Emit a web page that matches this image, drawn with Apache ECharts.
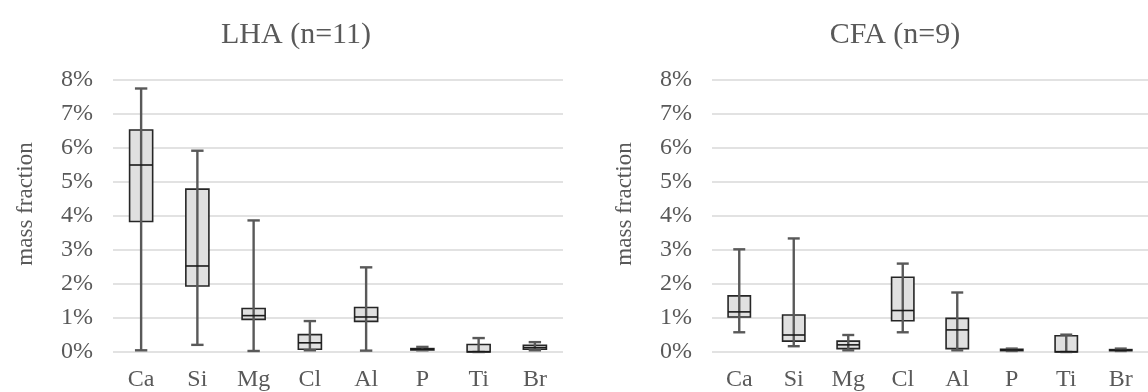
<!DOCTYPE html>
<html>
<head>
<meta charset="utf-8">
<script src="https://cdn.jsdelivr.net/npm/echarts@6/dist/echarts.min.js"></script>
<style>
html,body{margin:0;padding:0;background:#fff;}
#chart{width:1148px;height:392px;}
</style>
</head>
<body>
<div id="chart"></div>
<script>
const categories = ['Ca', 'Si', 'Mg', 'Cl', 'Al', 'P', 'Ti', 'Br'];
const yTicks = ['0%', '1%', '2%', '3%', '4%', '5%', '6%', '7%', '8%'];
const titles = ['LHA (n=11)', 'CFA (n=9)'];

// values in mass fraction (0.01 = 1%)
const lhaMin = [0.0005, 0.0021, 0.0003, 0.0005, 0.0004, 0.0005, 0.0000, 0.0005];
const lhaQ1  = [0.0384, 0.0194, 0.0096, 0.0008, 0.0090, 0.0006, 0.0000, 0.0008];
const lhaMed = [0.0550, 0.0253, 0.0107, 0.0027, 0.0103, 0.0008, 0.0001, 0.0013];
const lhaQ3  = [0.0653, 0.0479, 0.0128, 0.0051, 0.0131, 0.0010, 0.0022, 0.0020];
const lhaMax = [0.0775, 0.0592, 0.0387, 0.0091, 0.0249, 0.0015, 0.0041, 0.0029];

const cfaMin = [0.0058, 0.0017, 0.0005, 0.0058, 0.0005, 0.0003, 0.0000, 0.0003];
const cfaQ1  = [0.0103, 0.0032, 0.0010, 0.0092, 0.0010, 0.0004, 0.0000, 0.0004];
const cfaMed = [0.0118, 0.0050, 0.0021, 0.0122, 0.0065, 0.0006, 0.0001, 0.0005];
const cfaQ3  = [0.0165, 0.0109, 0.0032, 0.0220, 0.0099, 0.0008, 0.0048, 0.0007];
const cfaMax = [0.0302, 0.0334, 0.0050, 0.0260, 0.0175, 0.0010, 0.0051, 0.0010];

function build(mn, q1, md, q3, mx) {
  return categories.map((c, i) => [i, mn[i], q1[i], md[i], q3[i], mx[i]]);
}

const txt = '#595959';
const fontFam = '"Liberation Serif", "Times New Roman", serif';

function renderBox(params, api) {
  const i = api.value(0);
  const pMin = api.coord([i, api.value(1)]);
  const pQ1 = api.coord([i, api.value(2)]);
  const pMed = api.coord([i, api.value(3)]);
  const pQ3 = api.coord([i, api.value(4)]);
  const pMax = api.coord([i, api.value(5)]);
  const band = api.size([1, 0])[0];
  const bw = band * 0.41;
  const cw = band * 0.22;
  const x = pMed[0];
  return {
    type: 'group',
    children: [
      { type: 'rect', shape: { x: x - bw / 2, y: pQ3[1], width: bw, height: Math.max(pQ1[1] - pQ3[1], 0.5) },
        style: { fill: '#e0e0e0', stroke: '#262626', lineWidth: 1.6 } },
      { type: 'line', shape: { x1: x, y1: pMax[1], x2: x, y2: pMin[1] },
        style: { stroke: '#595959', lineWidth: 2.4 } },
      { type: 'line', shape: { x1: x - cw / 2, y1: pMax[1], x2: x + cw / 2, y2: pMax[1] },
        style: { stroke: '#595959', lineWidth: 2.4 } },
      { type: 'line', shape: { x1: x - cw / 2, y1: pMin[1], x2: x + cw / 2, y2: pMin[1] },
        style: { stroke: '#595959', lineWidth: 2.4 } },
      { type: 'line', shape: { x1: x - bw / 2, y1: pMed[1], x2: x + bw / 2, y2: pMed[1] },
        style: { stroke: '#1a1a1a', lineWidth: 1.6 } }
    ]
  };
}

const gridLefts = [113, 712];
const chart = echarts.init(document.getElementById('chart'), null, { renderer: 'canvas' });

function mkX(gi) {
  return {
    type: 'category', gridIndex: gi, data: categories,
    axisLine: { show: false }, axisTick: { show: false },
    axisLabel: { color: txt, fontFamily: fontFam, fontSize: 24, margin: 16 }
  };
}
function mkY(gi) {
  return {
    type: 'value', gridIndex: gi, min: 0, max: 0.08, interval: 0.01,
    name: 'mass fraction', nameLocation: 'middle', nameGap: 76, nameRotate: 90,
    nameTextStyle: { color: txt, fontFamily: fontFam, fontSize: 23, padding: [0, 0, 0, 24] },
    axisLine: { show: false }, axisTick: { show: false },
    axisLabel: { color: txt, fontFamily: fontFam, fontSize: 24, margin: 20,
      formatter: v => yTicks[Math.round(v * 100)] },
    splitLine: { lineStyle: { color: '#d9d9d9', width: 1.6 } }
  };
}

chart.setOption({
  animation: false,
  title: titles.map((t, i) => ({
    text: t, left: gridLefts[i] + 178, top: 15, textAlign: 'center',
    textStyle: { color: txt, fontFamily: fontFam, fontSize: 30, fontWeight: 'normal' }
  })),
  grid: gridLefts.map(l => ({ left: l, top: 80, width: 450, height: 274 })),
  xAxis: [mkX(0), mkX(1)],
  yAxis: [mkY(0), mkY(1)],
  series: [
    { type: 'custom', xAxisIndex: 0, yAxisIndex: 0, renderItem: renderBox,
      encode: { x: 0, y: [1, 2, 3, 4, 5] }, data: build(lhaMin, lhaQ1, lhaMed, lhaQ3, lhaMax) },
    { type: 'custom', xAxisIndex: 1, yAxisIndex: 1, renderItem: renderBox,
      encode: { x: 0, y: [1, 2, 3, 4, 5] }, data: build(cfaMin, cfaQ1, cfaMed, cfaQ3, cfaMax) }
  ]
});
</script>
</body>
</html>
